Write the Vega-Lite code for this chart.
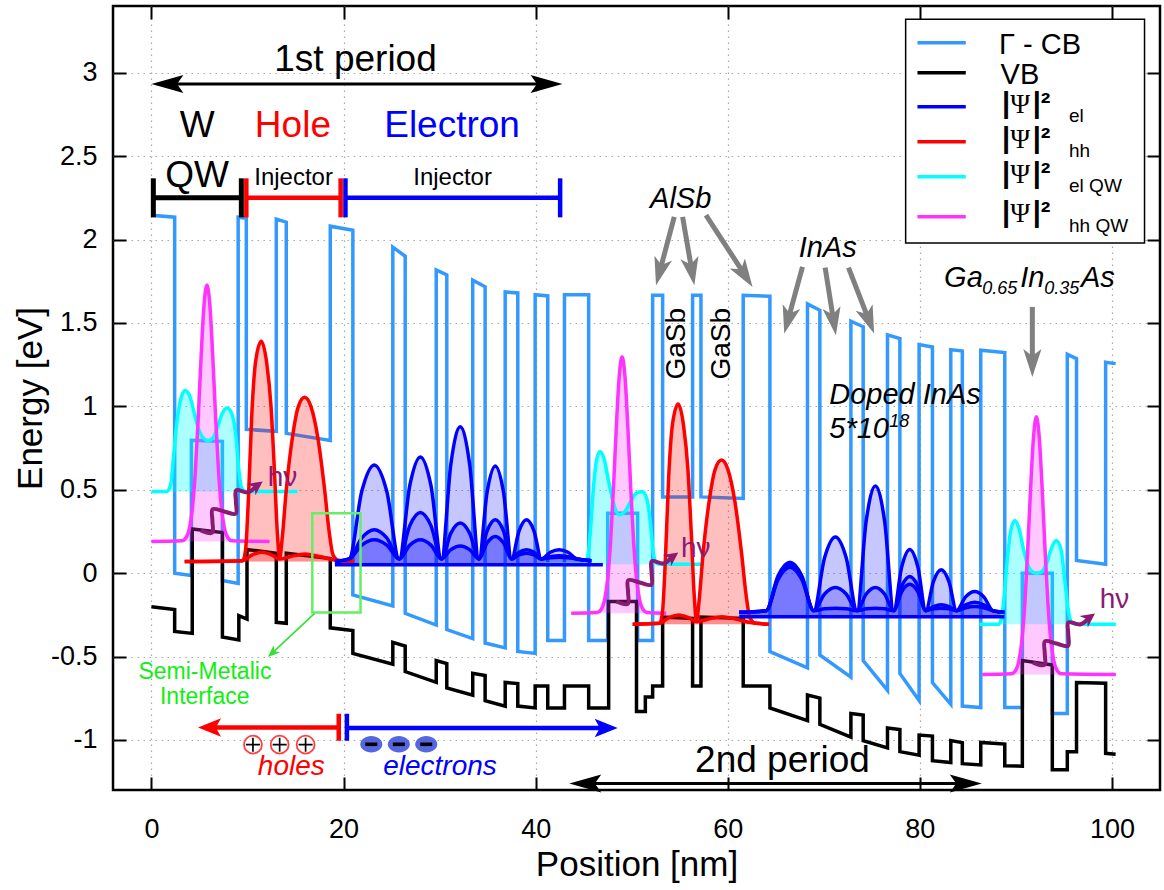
{
"$schema": "https://vega.github.io/schema/vega-lite/v6.json",
"width": 1047, "height": 784,
"autosize": {"type": "none"},
"padding": {"left": 113, "top": 6, "right": 4, "bottom": 100},
"background": "white",
"config": {
  "font": "Liberation Sans",
  "view": {"stroke": "black", "strokeWidth": 2.5},
  "axis": {"domain": false, "tickSize": -13, "tickWidth": 2, "tickColor": "black", "labelFontSize": 27, "labelColor": "black", "labelFont": "Liberation Sans", "titleFont": "Liberation Sans", "titleFontSize": 35, "titleFontWeight": "normal", "titleColor": "black", "gridColor": "#a8a8a8", "gridDash": [1.5, 4.5], "gridWidth": 1.2, "labelFlush": false, "labelOverlap": false}
},
"datasets": {
"cb": [{"x":0,"y":2.146},{"x":2.42,"y":2.134},{"x":2.42,"y":0.0},{"x":4.16,"y":-0.014},{"x":4.16,"y":0.796},{"x":7.39,"y":0.79},{"x":7.39,"y":-0.044},{"x":9.03,"y":-0.062},{"x":9.03,"y":2.134},{"x":9.88,"y":2.128},{"x":9.88,"y":0.862},{"x":13.0,"y":0.85},{"x":13.0,"y":2.122},{"x":14.04,"y":2.104},{"x":14.04,"y":0.838},{"x":18.62,"y":0.796},{"x":18.62,"y":2.08},{"x":20.97,"y":2.056},{"x":20.97,"y":-0.131},{"x":25.13,"y":-0.197},{"x":25.13,"y":1.954},{"x":26.42,"y":1.9},{"x":26.42,"y":-0.241},{"x":29.65,"y":-0.311},{"x":29.65,"y":1.818},{"x":30.75,"y":1.788},{"x":30.75,"y":-0.338},{"x":33.45,"y":-0.392},{"x":33.45,"y":1.756},{"x":34.74,"y":1.717},{"x":34.74,"y":-0.419},{"x":36.83,"y":-0.448},{"x":36.83,"y":1.686},{"x":38.14,"y":1.68},{"x":38.14,"y":-0.47},{"x":39.95,"y":-0.481},{"x":39.95,"y":1.669},{"x":41.26,"y":1.662},{"x":41.26,"y":-0.404},{"x":43.0,"y":-0.404},{"x":43.0,"y":1.669},{"x":45.52,"y":1.669},{"x":45.52,"y":-0.404},{"x":47.5,"y":-0.404},{"x":47.5,"y":0.359},{"x":50.62,"y":0.359},{"x":50.62,"y":-0.404},{"x":52.18,"y":-0.404},{"x":52.18,"y":1.666},{"x":53.22,"y":1.666},{"x":53.22,"y":0.457},{"x":56.34,"y":0.457},{"x":56.34,"y":1.666},{"x":57.21,"y":1.666},{"x":57.21,"y":0.457},{"x":61.61,"y":0.448},{"x":61.61,"y":1.666},{"x":64.39,"y":1.66},{"x":64.39,"y":-0.47},{"x":68.3,"y":-0.568},{"x":68.3,"y":1.614},{"x":69.59,"y":1.576},{"x":69.59,"y":-0.491},{"x":72.82,"y":-0.623},{"x":72.82,"y":1.51},{"x":74.1,"y":1.477},{"x":74.1,"y":-0.524},{"x":76.63,"y":-0.703},{"x":76.63,"y":1.429},{"x":77.92,"y":1.406},{"x":77.92,"y":-0.601},{"x":79.92,"y":-0.764},{"x":79.92,"y":1.37},{"x":81.31,"y":1.356},{"x":81.31,"y":-0.656},{"x":83.22,"y":-0.786},{"x":83.22,"y":1.34},{"x":84.42,"y":1.332},{"x":84.42,"y":-0.797},{"x":86.34,"y":-0.806},{"x":86.34,"y":1.336},{"x":88.84,"y":1.322},{"x":88.84,"y":-0.806},{"x":90.67,"y":-0.806},{"x":90.67,"y":0.0},{"x":93.79,"y":0.0},{"x":93.79,"y":-0.841},{"x":95.35,"y":-0.841},{"x":95.35,"y":1.312},{"x":96.31,"y":1.286},{"x":96.31,"y":0.076},{"x":99.34,"y":0.054},{"x":99.34,"y":1.264},{"x":100.38,"y":1.256}],
"vb": [{"x":0,"y":-0.202},{"x":2.42,"y":-0.218},{"x":2.42,"y":-0.35},{"x":4.25,"y":-0.361},{"x":4.25,"y":0.265},{"x":7.39,"y":0.244},{"x":7.39,"y":-0.383},{"x":9.1,"y":-0.4},{"x":9.1,"y":-0.255},{"x":9.95,"y":-0.275},{"x":9.95,"y":0.142},{"x":13.0,"y":0.119},{"x":13.0,"y":-0.295},{"x":14.04,"y":-0.301},{"x":14.04,"y":0.119},{"x":18.62,"y":0.088},{"x":18.62,"y":-0.328},{"x":20.97,"y":-0.344},{"x":20.97,"y":-0.481},{"x":25.13,"y":-0.546},{"x":25.13,"y":-0.415},{"x":26.42,"y":-0.437},{"x":26.42,"y":-0.59},{"x":29.65,"y":-0.655},{"x":29.65,"y":-0.524},{"x":30.75,"y":-0.542},{"x":30.75,"y":-0.688},{"x":33.45,"y":-0.731},{"x":33.45,"y":-0.601},{"x":34.74,"y":-0.614},{"x":34.74,"y":-0.764},{"x":36.83,"y":-0.797},{"x":36.83,"y":-0.655},{"x":38.14,"y":-0.662},{"x":38.14,"y":-0.797},{"x":39.95,"y":-0.808},{"x":39.95,"y":-0.677},{"x":41.26,"y":-0.677},{"x":41.26,"y":-0.808},{"x":43.0,"y":-0.808},{"x":43.0,"y":-0.677},{"x":45.52,"y":-0.677},{"x":45.52,"y":-0.808},{"x":47.6,"y":-0.808},{"x":47.6,"y":-0.17},{"x":50.5,"y":-0.17},{"x":50.5,"y":-0.83},{"x":51.42,"y":-0.83},{"x":51.42,"y":-0.743},{"x":52.18,"y":-0.743},{"x":52.18,"y":-0.677},{"x":53.22,"y":-0.677},{"x":53.22,"y":-0.263},{"x":56.34,"y":-0.272},{"x":56.34,"y":-0.677},{"x":57.21,"y":-0.677},{"x":57.21,"y":-0.263},{"x":61.61,"y":-0.272},{"x":61.61,"y":-0.677},{"x":64.39,"y":-0.677},{"x":64.39,"y":-0.808},{"x":68.3,"y":-0.884},{"x":68.3,"y":-0.731},{"x":69.59,"y":-0.749},{"x":69.59,"y":-0.906},{"x":72.82,"y":-0.983},{"x":72.82,"y":-0.841},{"x":74.1,"y":-0.851},{"x":74.1,"y":-1.005},{"x":76.63,"y":-1.048},{"x":76.63,"y":-0.928},{"x":77.92,"y":-0.938},{"x":77.92,"y":-1.07},{"x":79.92,"y":-1.091},{"x":79.92,"y":-0.971},{"x":81.31,"y":-0.977},{"x":81.31,"y":-1.124},{"x":83.22,"y":-1.135},{"x":83.22,"y":-1.004},{"x":84.42,"y":-1.016},{"x":84.42,"y":-1.142},{"x":86.34,"y":-1.15},{"x":86.34,"y":-1.015},{"x":88.84,"y":-1.025},{"x":88.84,"y":-1.155},{"x":90.67,"y":-1.157},{"x":90.67,"y":-0.524},{"x":93.79,"y":-0.551},{"x":93.79,"y":-1.178},{"x":95.35,"y":-1.178},{"x":95.35,"y":-1.07},{"x":96.31,"y":-1.07},{"x":96.31,"y":-0.656},{"x":99.34,"y":-0.66},{"x":99.34,"y":-1.08},{"x":100.38,"y":-1.085}],
"elqw": [
{"s":"c1","b":0.49,"x":0,"y":0.49},{"s":"c1","b":0.49,"x":1.6,"y":0.49},{"s":"c1","b":0.49,"x":2.0,"y":0.53},{"s":"c1","b":0.49,"x":2.3,"y":0.7},{"s":"c1","b":0.49,"x":2.6,"y":0.88},{"s":"c1","b":0.49,"x":3.0,"y":1.03},{"s":"c1","b":0.49,"x":3.5,"y":1.095},{"s":"c1","b":0.49,"x":4.0,"y":1.06},{"s":"c1","b":0.49,"x":4.5,"y":0.95},{"s":"c1","b":0.49,"x":5.0,"y":0.85},{"s":"c1","b":0.49,"x":5.5,"y":0.805},{"s":"c1","b":0.49,"x":5.9,"y":0.795},{"s":"c1","b":0.49,"x":6.4,"y":0.81},{"s":"c1","b":0.49,"x":6.9,"y":0.88},{"s":"c1","b":0.49,"x":7.4,"y":0.96},{"s":"c1","b":0.49,"x":7.9,"y":0.99},{"s":"c1","b":0.49,"x":8.4,"y":0.95},{"s":"c1","b":0.49,"x":8.8,"y":0.82},{"s":"c1","b":0.49,"x":9.1,"y":0.62},{"s":"c1","b":0.49,"x":9.4,"y":0.51},{"s":"c1","b":0.49,"x":9.8,"y":0.49},{"s":"c1","b":0.49,"x":15.2,"y":0.49},
{"s":"c2","b":0.054,"x":40.9,"y":0.054},{"s":"c2","b":0.054,"x":45.0,"y":0.054},{"s":"c2","b":0.054,"x":45.4,"y":0.09},{"s":"c2","b":0.054,"x":45.7,"y":0.25},{"s":"c2","b":0.054,"x":46.0,"y":0.5},{"s":"c2","b":0.054,"x":46.35,"y":0.68},{"s":"c2","b":0.054,"x":46.7,"y":0.73},{"s":"c2","b":0.054,"x":47.1,"y":0.69},{"s":"c2","b":0.054,"x":47.6,"y":0.55},{"s":"c2","b":0.054,"x":48.1,"y":0.42},{"s":"c2","b":0.054,"x":48.7,"y":0.35},{"s":"c2","b":0.054,"x":49.3,"y":0.37},{"s":"c2","b":0.054,"x":49.9,"y":0.43},{"s":"c2","b":0.054,"x":50.5,"y":0.48},{"s":"c2","b":0.054,"x":51.1,"y":0.49},{"s":"c2","b":0.054,"x":51.6,"y":0.44},{"s":"c2","b":0.054,"x":51.95,"y":0.3},{"s":"c2","b":0.054,"x":52.25,"y":0.12},{"s":"c2","b":0.054,"x":52.6,"y":0.06},{"s":"c2","b":0.054,"x":53.0,"y":0.054},{"s":"c2","b":0.054,"x":57.3,"y":0.054},
{"s":"c3","b":-0.306,"x":86.2,"y":-0.306},{"s":"c3","b":-0.306,"x":88.2,"y":-0.306},{"s":"c3","b":-0.306,"x":88.5,"y":-0.27},{"s":"c3","b":-0.306,"x":88.8,"y":-0.12},{"s":"c3","b":-0.306,"x":89.1,"y":0.08},{"s":"c3","b":-0.306,"x":89.45,"y":0.25},{"s":"c3","b":-0.306,"x":89.9,"y":0.316},{"s":"c3","b":-0.306,"x":90.35,"y":0.26},{"s":"c3","b":-0.306,"x":90.8,"y":0.14},{"s":"c3","b":-0.306,"x":91.3,"y":0.04},{"s":"c3","b":-0.306,"x":91.8,"y":0.005},{"s":"c3","b":-0.306,"x":92.25,"y":0.0},{"s":"c3","b":-0.306,"x":92.7,"y":0.01},{"s":"c3","b":-0.306,"x":93.2,"y":0.06},{"s":"c3","b":-0.306,"x":93.7,"y":0.15},{"s":"c3","b":-0.306,"x":94.2,"y":0.196},{"s":"c3","b":-0.306,"x":94.7,"y":0.14},{"s":"c3","b":-0.306,"x":95.1,"y":-0.05},{"s":"c3","b":-0.306,"x":95.45,"y":-0.22},{"s":"c3","b":-0.306,"x":95.8,"y":-0.295},{"s":"c3","b":-0.306,"x":96.2,"y":-0.306},{"s":"c3","b":-0.306,"x":100.4,"y":-0.306}],
"hhqw": [
{"s":"m1","b":0.19,"x":0,"y":0.19},{"s":"m1","b":0.19,"x":3.18,"y":0.194},{"s":"m1","b":0.19,"x":3.58,"y":0.211},{"s":"m1","b":0.19,"x":3.98,"y":0.276},{"s":"m1","b":0.19,"x":4.28,"y":0.397},{"s":"m1","b":0.19,"x":4.58,"y":0.617},{"s":"m1","b":0.19,"x":4.88,"y":0.939},{"s":"m1","b":0.19,"x":5.18,"y":1.306},{"s":"m1","b":0.19,"x":5.48,"y":1.609},{"s":"m1","b":0.19,"x":5.78,"y":1.727},{"s":"m1","b":0.19,"x":6.08,"y":1.609},{"s":"m1","b":0.19,"x":6.38,"y":1.306},{"s":"m1","b":0.19,"x":6.68,"y":0.939},{"s":"m1","b":0.19,"x":6.98,"y":0.617},{"s":"m1","b":0.19,"x":7.28,"y":0.397},{"s":"m1","b":0.19,"x":7.58,"y":0.276},{"s":"m1","b":0.19,"x":7.98,"y":0.211},{"s":"m1","b":0.19,"x":8.38,"y":0.194},{"s":"m1","b":0.19,"x":12.3,"y":0.19},
{"s":"m2","b":-0.24,"x":43.7,"y":-0.24},{"s":"m2","b":-0.24,"x":46.4,"y":-0.236},{"s":"m2","b":-0.24,"x":46.8,"y":-0.219},{"s":"m2","b":-0.24,"x":47.2,"y":-0.154},{"s":"m2","b":-0.24,"x":47.5,"y":-0.033},{"s":"m2","b":-0.24,"x":47.8,"y":0.187},{"s":"m2","b":-0.24,"x":48.1,"y":0.509},{"s":"m2","b":-0.24,"x":48.4,"y":0.876},{"s":"m2","b":-0.24,"x":48.7,"y":1.179},{"s":"m2","b":-0.24,"x":49.0,"y":1.297},{"s":"m2","b":-0.24,"x":49.3,"y":1.179},{"s":"m2","b":-0.24,"x":49.6,"y":0.876},{"s":"m2","b":-0.24,"x":49.9,"y":0.509},{"s":"m2","b":-0.24,"x":50.2,"y":0.187},{"s":"m2","b":-0.24,"x":50.5,"y":-0.033},{"s":"m2","b":-0.24,"x":50.8,"y":-0.154},{"s":"m2","b":-0.24,"x":51.2,"y":-0.219},{"s":"m2","b":-0.24,"x":51.6,"y":-0.236},{"s":"m2","b":-0.24,"x":53.6,"y":-0.24},
{"s":"m3","b":-0.607,"x":86.5,"y":-0.607},{"s":"m3","b":-0.607,"x":89.53,"y":-0.603},{"s":"m3","b":-0.607,"x":89.93,"y":-0.586},{"s":"m3","b":-0.607,"x":90.33,"y":-0.521},{"s":"m3","b":-0.607,"x":90.63,"y":-0.4},{"s":"m3","b":-0.607,"x":90.93,"y":-0.18},{"s":"m3","b":-0.607,"x":91.23,"y":0.143},{"s":"m3","b":-0.607,"x":91.53,"y":0.51},{"s":"m3","b":-0.607,"x":91.83,"y":0.813},{"s":"m3","b":-0.607,"x":92.13,"y":0.937},{"s":"m3","b":-0.607,"x":92.43,"y":0.813},{"s":"m3","b":-0.607,"x":92.73,"y":0.51},{"s":"m3","b":-0.607,"x":93.03,"y":0.143},{"s":"m3","b":-0.607,"x":93.33,"y":-0.18},{"s":"m3","b":-0.607,"x":93.63,"y":-0.4},{"s":"m3","b":-0.607,"x":93.93,"y":-0.521},{"s":"m3","b":-0.607,"x":94.33,"y":-0.586},{"s":"m3","b":-0.607,"x":94.73,"y":-0.603},{"s":"m3","b":-0.607,"x":100.4,"y":-0.607}],
"hh": [
{"s":"r1a","b":0.07,"x":3.46,"y":0.07},{"s":"r1a","b":0.07,"x":9.5,"y":0.075},{"s":"r1a","b":0.07,"x":9.8,"y":0.14},{"s":"r1a","b":0.07,"x":10.1,"y":0.45},{"s":"r1a","b":0.07,"x":10.45,"y":0.95},{"s":"r1a","b":0.07,"x":10.85,"y":1.27},{"s":"r1a","b":0.07,"x":11.44,"y":1.39},{"s":"r1a","b":0.07,"x":12.0,"y":1.26},{"s":"r1a","b":0.07,"x":12.45,"y":1.0},{"s":"r1a","b":0.07,"x":12.8,"y":0.62},{"s":"r1a","b":0.07,"x":13.1,"y":0.25},{"s":"r1a","b":0.07,"x":13.35,"y":0.09},{"s":"r1a","b":0.07,"x":13.6,"y":0.2},{"s":"r1a","b":0.07,"x":14.04,"y":0.5},{"s":"r1a","b":0.07,"x":14.67,"y":0.81},{"s":"r1a","b":0.07,"x":15.3,"y":1.0},{"s":"r1a","b":0.07,"x":15.95,"y":1.054},{"s":"r1a","b":0.07,"x":16.6,"y":1.0},{"s":"r1a","b":0.07,"x":17.33,"y":0.81},{"s":"r1a","b":0.07,"x":18.03,"y":0.5},{"s":"r1a","b":0.07,"x":18.5,"y":0.25},{"s":"r1a","b":0.07,"x":18.9,"y":0.11},{"s":"r1a","b":0.07,"x":19.5,"y":0.075},{"s":"r1a","b":0.07,"x":21.1,"y":0.07},
{"s":"r1b","b":0.07,"x":3.46,"y":0.07},{"s":"r1b","b":0.07,"x":9.5,"y":0.075},{"s":"r1b","b":0.07,"x":10.5,"y":0.11},{"s":"r1b","b":0.07,"x":11.5,"y":0.125},{"s":"r1b","b":0.07,"x":12.5,"y":0.11},{"s":"r1b","b":0.07,"x":13.35,"y":0.085},{"s":"r1b","b":0.07,"x":14.5,"y":0.1},{"s":"r1b","b":0.07,"x":16.0,"y":0.115},{"s":"r1b","b":0.07,"x":17.5,"y":0.1},{"s":"r1b","b":0.07,"x":19.0,"y":0.08},{"s":"r1b","b":0.07,"x":21.1,"y":0.07},
{"s":"r2a","b":-0.306,"x":50.1,"y":-0.306},{"s":"r2a","b":-0.306,"x":52.9,"y":-0.301},{"s":"r2a","b":-0.306,"x":53.2,"y":-0.236},{"s":"r2a","b":-0.306,"x":53.5,"y":0.074},{"s":"r2a","b":-0.306,"x":53.85,"y":0.574},{"s":"r2a","b":-0.306,"x":54.25,"y":0.894},{"s":"r2a","b":-0.306,"x":54.84,"y":1.014},{"s":"r2a","b":-0.306,"x":55.4,"y":0.884},{"s":"r2a","b":-0.306,"x":55.85,"y":0.624},{"s":"r2a","b":-0.306,"x":56.2,"y":0.244},{"s":"r2a","b":-0.306,"x":56.5,"y":-0.126},{"s":"r2a","b":-0.306,"x":56.75,"y":-0.286},{"s":"r2a","b":-0.306,"x":57.0,"y":-0.176},{"s":"r2a","b":-0.306,"x":57.44,"y":0.124},{"s":"r2a","b":-0.306,"x":58.07,"y":0.434},{"s":"r2a","b":-0.306,"x":58.7,"y":0.624},{"s":"r2a","b":-0.306,"x":59.35,"y":0.678},{"s":"r2a","b":-0.306,"x":60.0,"y":0.624},{"s":"r2a","b":-0.306,"x":60.73,"y":0.434},{"s":"r2a","b":-0.306,"x":61.43,"y":0.124},{"s":"r2a","b":-0.306,"x":61.9,"y":-0.126},{"s":"r2a","b":-0.306,"x":62.3,"y":-0.266},{"s":"r2a","b":-0.306,"x":62.9,"y":-0.301},{"s":"r2a","b":-0.306,"x":64.3,"y":-0.306},
{"s":"r2b","b":-0.306,"x":50.1,"y":-0.306},{"s":"r2b","b":-0.306,"x":52.9,"y":-0.301},{"s":"r2b","b":-0.306,"x":53.9,"y":-0.266},{"s":"r2b","b":-0.306,"x":54.9,"y":-0.251},{"s":"r2b","b":-0.306,"x":55.9,"y":-0.266},{"s":"r2b","b":-0.306,"x":56.75,"y":-0.291},{"s":"r2b","b":-0.306,"x":57.9,"y":-0.276},{"s":"r2b","b":-0.306,"x":59.4,"y":-0.261},{"s":"r2b","b":-0.306,"x":60.9,"y":-0.276},{"s":"r2b","b":-0.306,"x":62.4,"y":-0.296},{"s":"r2b","b":-0.306,"x":64.3,"y":-0.306}],
"el": [
{"s":"e1a","b":0.055,"x":19.1,"y":0.07},{"s":"e1a","b":0.055,"x":20.6,"y":0.085},{"s":"e1a","b":0.055,"x":21.9,"y":0.491},{"s":"e1a","b":0.055,"x":23.2,"y":0.649},{"s":"e1a","b":0.055,"x":24.5,"y":0.491},{"s":"e1a","b":0.055,"x":25.8,"y":0.085},{"s":"e1a","b":0.055,"x":26.9,"y":0.526},{"s":"e1a","b":0.055,"x":28.0,"y":0.697},{"s":"e1a","b":0.055,"x":29.1,"y":0.526},{"s":"e1a","b":0.055,"x":30.2,"y":0.085},{"s":"e1a","b":0.055,"x":31.175,"y":0.655},{"s":"e1a","b":0.055,"x":32.15,"y":0.877},{"s":"e1a","b":0.055,"x":33.125,"y":0.655},{"s":"e1a","b":0.055,"x":34.1,"y":0.085},{"s":"e1a","b":0.055,"x":34.95,"y":0.487},{"s":"e1a","b":0.055,"x":35.8,"y":0.643},{"s":"e1a","b":0.055,"x":36.65,"y":0.487},{"s":"e1a","b":0.055,"x":37.5,"y":0.085},{"s":"e1a","b":0.055,"x":38.275,"y":0.254},{"s":"e1a","b":0.055,"x":39.05,"y":0.32},{"s":"e1a","b":0.055,"x":39.825,"y":0.254},{"s":"e1a","b":0.055,"x":40.6,"y":0.085},{"s":"e1a","b":0.055,"x":41.525,"y":0.125},{"s":"e1a","b":0.055,"x":42.45,"y":0.14},{"s":"e1a","b":0.055,"x":43.375,"y":0.125},{"s":"e1a","b":0.055,"x":44.3,"y":0.085},{"s":"e1a","b":0.055,"x":45.8,"y":0.075},
{"s":"e1b","b":0.055,"x":19.1,"y":0.07},{"s":"e1b","b":0.055,"x":20.6,"y":0.085},{"s":"e1b","b":0.055,"x":21.9,"y":0.211},{"s":"e1b","b":0.055,"x":23.2,"y":0.26},{"s":"e1b","b":0.055,"x":24.5,"y":0.211},{"s":"e1b","b":0.055,"x":25.8,"y":0.085},{"s":"e1b","b":0.055,"x":26.9,"y":0.285},{"s":"e1b","b":0.055,"x":28.0,"y":0.363},{"s":"e1b","b":0.055,"x":29.1,"y":0.285},{"s":"e1b","b":0.055,"x":30.2,"y":0.085},{"s":"e1b","b":0.055,"x":31.175,"y":0.24},{"s":"e1b","b":0.055,"x":32.15,"y":0.3},{"s":"e1b","b":0.055,"x":33.125,"y":0.24},{"s":"e1b","b":0.055,"x":34.1,"y":0.085},{"s":"e1b","b":0.055,"x":34.95,"y":0.254},{"s":"e1b","b":0.055,"x":35.8,"y":0.32},{"s":"e1b","b":0.055,"x":36.65,"y":0.254},{"s":"e1b","b":0.055,"x":37.5,"y":0.085},{"s":"e1b","b":0.055,"x":38.275,"y":0.125},{"s":"e1b","b":0.055,"x":39.05,"y":0.14},{"s":"e1b","b":0.055,"x":39.825,"y":0.125},{"s":"e1b","b":0.055,"x":40.6,"y":0.085},{"s":"e1b","b":0.055,"x":41.525,"y":0.099},{"s":"e1b","b":0.055,"x":42.45,"y":0.105},{"s":"e1b","b":0.055,"x":43.375,"y":0.099},{"s":"e1b","b":0.055,"x":44.3,"y":0.085},{"s":"e1b","b":0.055,"x":45.8,"y":0.075},
{"s":"e1c","b":0.055,"x":19.1,"y":0.07},{"s":"e1c","b":0.055,"x":20.6,"y":0.085},{"s":"e1c","b":0.055,"x":21.9,"y":0.168},{"s":"e1c","b":0.055,"x":23.2,"y":0.2},{"s":"e1c","b":0.055,"x":24.5,"y":0.168},{"s":"e1c","b":0.055,"x":25.8,"y":0.085},{"s":"e1c","b":0.055,"x":26.9,"y":0.168},{"s":"e1c","b":0.055,"x":28.0,"y":0.2},{"s":"e1c","b":0.055,"x":29.1,"y":0.168},{"s":"e1c","b":0.055,"x":30.2,"y":0.085},{"s":"e1c","b":0.055,"x":31.175,"y":0.141},{"s":"e1c","b":0.055,"x":32.15,"y":0.163},{"s":"e1c","b":0.055,"x":33.125,"y":0.141},{"s":"e1c","b":0.055,"x":34.1,"y":0.085},{"s":"e1c","b":0.055,"x":34.95,"y":0.182},{"s":"e1c","b":0.055,"x":35.8,"y":0.22},{"s":"e1c","b":0.055,"x":36.65,"y":0.182},{"s":"e1c","b":0.055,"x":37.5,"y":0.085},{"s":"e1c","b":0.055,"x":38.275,"y":0.11},{"s":"e1c","b":0.055,"x":39.05,"y":0.12},{"s":"e1c","b":0.055,"x":39.825,"y":0.11},{"s":"e1c","b":0.055,"x":40.6,"y":0.085},{"s":"e1c","b":0.055,"x":41.525,"y":0.092},{"s":"e1c","b":0.055,"x":42.45,"y":0.095},{"s":"e1c","b":0.055,"x":43.375,"y":0.092},{"s":"e1c","b":0.055,"x":44.3,"y":0.085},{"s":"e1c","b":0.055,"x":45.8,"y":0.075},
{"s":"e1d","b":0.05,"x":19.1,"y":0.05},{"s":"e1d","b":0.05,"x":47.0,"y":0.05},
{"s":"e2a","b":-0.255,"x":61.2,"y":-0.235},{"s":"e2a","b":-0.255,"x":64.0,"y":-0.225},{"s":"e2a","b":-0.255,"x":65.24,"y":-0.016},{"s":"e2a","b":-0.255,"x":66.475,"y":0.065},{"s":"e2a","b":-0.255,"x":67.71,"y":-0.016},{"s":"e2a","b":-0.255,"x":68.95,"y":-0.225},{"s":"e2a","b":-0.255,"x":70.08,"y":0.093},{"s":"e2a","b":-0.255,"x":71.205,"y":0.217},{"s":"e2a","b":-0.255,"x":72.33,"y":0.093},{"s":"e2a","b":-0.255,"x":73.46,"y":-0.225},{"s":"e2a","b":-0.255,"x":74.415,"y":0.314},{"s":"e2a","b":-0.255,"x":75.37,"y":0.523},{"s":"e2a","b":-0.255,"x":76.325,"y":0.314},{"s":"e2a","b":-0.255,"x":77.28,"y":-0.225},{"s":"e2a","b":-0.255,"x":78.115,"y":0.039},{"s":"e2a","b":-0.255,"x":78.95,"y":0.142},{"s":"e2a","b":-0.255,"x":79.785,"y":0.039},{"s":"e2a","b":-0.255,"x":80.62,"y":-0.225},{"s":"e2a","b":-0.255,"x":81.42,"y":-0.049},{"s":"e2a","b":-0.255,"x":82.22,"y":0.02},{"s":"e2a","b":-0.255,"x":83.02,"y":-0.049},{"s":"e2a","b":-0.255,"x":83.82,"y":-0.225},{"s":"e2a","b":-0.255,"x":84.765,"y":-0.142},{"s":"e2a","b":-0.255,"x":85.71,"y":-0.11},{"s":"e2a","b":-0.255,"x":86.655,"y":-0.142},{"s":"e2a","b":-0.255,"x":87.6,"y":-0.225},{"s":"e2a","b":-0.255,"x":88.8,"y":-0.235},
{"s":"e2b","b":-0.255,"x":61.2,"y":-0.235},{"s":"e2b","b":-0.255,"x":64.0,"y":-0.225},{"s":"e2b","b":-0.255,"x":65.24,"y":-0.027},{"s":"e2b","b":-0.255,"x":66.475,"y":0.05},{"s":"e2b","b":-0.255,"x":67.71,"y":-0.027},{"s":"e2b","b":-0.255,"x":68.95,"y":-0.225},{"s":"e2b","b":-0.255,"x":70.08,"y":-0.125},{"s":"e2b","b":-0.255,"x":71.205,"y":-0.086},{"s":"e2b","b":-0.255,"x":72.33,"y":-0.125},{"s":"e2b","b":-0.255,"x":73.46,"y":-0.225},{"s":"e2b","b":-0.255,"x":74.415,"y":-0.125},{"s":"e2b","b":-0.255,"x":75.37,"y":-0.086},{"s":"e2b","b":-0.255,"x":76.325,"y":-0.125},{"s":"e2b","b":-0.255,"x":77.28,"y":-0.225},{"s":"e2b","b":-0.255,"x":78.115,"y":-0.077},{"s":"e2b","b":-0.255,"x":78.95,"y":-0.02},{"s":"e2b","b":-0.255,"x":79.785,"y":-0.077},{"s":"e2b","b":-0.255,"x":80.62,"y":-0.225},{"s":"e2b","b":-0.255,"x":81.42,"y":-0.2},{"s":"e2b","b":-0.255,"x":82.22,"y":-0.19},{"s":"e2b","b":-0.255,"x":83.02,"y":-0.2},{"s":"e2b","b":-0.255,"x":83.82,"y":-0.225},{"s":"e2b","b":-0.255,"x":84.765,"y":-0.19},{"s":"e2b","b":-0.255,"x":85.71,"y":-0.175},{"s":"e2b","b":-0.255,"x":86.655,"y":-0.19},{"s":"e2b","b":-0.255,"x":87.6,"y":-0.225},{"s":"e2b","b":-0.255,"x":88.8,"y":-0.235},
{"s":"e2c","b":-0.255,"x":61.2,"y":-0.235},{"s":"e2c","b":-0.255,"x":64.0,"y":-0.225},{"s":"e2c","b":-0.255,"x":65.24,"y":-0.038},{"s":"e2c","b":-0.255,"x":66.475,"y":0.035},{"s":"e2c","b":-0.255,"x":67.71,"y":-0.038},{"s":"e2c","b":-0.255,"x":68.95,"y":-0.225},{"s":"e2c","b":-0.255,"x":70.08,"y":-0.214},{"s":"e2c","b":-0.255,"x":71.205,"y":-0.21},{"s":"e2c","b":-0.255,"x":72.33,"y":-0.214},{"s":"e2c","b":-0.255,"x":73.46,"y":-0.225},{"s":"e2c","b":-0.255,"x":74.415,"y":-0.214},{"s":"e2c","b":-0.255,"x":75.37,"y":-0.21},{"s":"e2c","b":-0.255,"x":76.325,"y":-0.214},{"s":"e2c","b":-0.255,"x":77.28,"y":-0.225},{"s":"e2c","b":-0.255,"x":78.115,"y":-0.11},{"s":"e2c","b":-0.255,"x":78.95,"y":-0.066},{"s":"e2c","b":-0.255,"x":79.785,"y":-0.11},{"s":"e2c","b":-0.255,"x":80.62,"y":-0.225},{"s":"e2c","b":-0.255,"x":81.42,"y":-0.214},{"s":"e2c","b":-0.255,"x":82.22,"y":-0.21},{"s":"e2c","b":-0.255,"x":83.02,"y":-0.214},{"s":"e2c","b":-0.255,"x":83.82,"y":-0.225},{"s":"e2c","b":-0.255,"x":84.765,"y":-0.207},{"s":"e2c","b":-0.255,"x":85.71,"y":-0.2},{"s":"e2c","b":-0.255,"x":86.655,"y":-0.207},{"s":"e2c","b":-0.255,"x":87.6,"y":-0.225},{"s":"e2c","b":-0.255,"x":88.8,"y":-0.235},
{"s":"e2d","b":-0.262,"x":61.2,"y":-0.262},{"s":"e2d","b":-0.262,"x":88.8,"y":-0.262}],
"waves": [
{"s":"w1","x":5.13,"y":0.256},{"s":"w1","x":6.32,"y":0.242},{"s":"w1","x":6.35,"y":0.313},{"s":"w1","x":6.37,"y":0.383},{"s":"w1","x":7.57,"y":0.37},{"s":"w1","x":8.77,"y":0.356},{"s":"w1","x":8.8,"y":0.427},{"s":"w1","x":8.82,"y":0.497},{"s":"w1","x":10.02,"y":0.484},{"s":"w1","x":10.85,"y":0.517},
{"s":"w2","x":48.4,"y":-0.17},{"s":"w2","x":49.59,"y":-0.184},{"s":"w2","x":49.62,"y":-0.113},{"s":"w2","x":49.64,"y":-0.043},{"s":"w2","x":50.84,"y":-0.056},{"s":"w2","x":52.04,"y":-0.07},{"s":"w2","x":52.07,"y":0.001},{"s":"w2","x":52.09,"y":0.071},{"s":"w2","x":53.29,"y":0.058},{"s":"w2","x":54.12,"y":0.091},
{"s":"w3","x":91.78,"y":-0.536},{"s":"w3","x":92.97,"y":-0.55},{"s":"w3","x":93.0,"y":-0.479},{"s":"w3","x":93.02,"y":-0.409},{"s":"w3","x":94.22,"y":-0.422},{"s":"w3","x":95.42,"y":-0.436},{"s":"w3","x":95.45,"y":-0.365},{"s":"w3","x":95.47,"y":-0.295},{"s":"w3","x":96.67,"y":-0.308},{"s":"w3","x":97.5,"y":-0.275}]
},
"encoding": {
  "x": {"field": "x", "type": "quantitative", "scale": {"domain": [-4, 105], "nice": false, "zero": false}, "axis": null},
  "y": {"field": "y", "type": "quantitative", "scale": {"domain": [-1.3, 3.4], "nice": false, "zero": false}, "axis": null}
},
"layer": [
{"data": {"name": "cb"}, "mark": {"type": "line", "color": "#3399ff", "strokeWidth": 3.5},
 "encoding": {
  "x": {"field": "x", "type": "quantitative", "scale": {"domain": [-4, 105], "nice": false, "zero": false},
        "axis": {"orient": "bottom", "values": [0, 20, 40, 60, 80, 100], "title": "Position [nm]", "grid": true, "labelPadding": 60, "labelBaseline": "alphabetic", "titleY": 85, "titleBaseline": "alphabetic"}},
  "y": {"field": "y", "type": "quantitative", "scale": {"domain": [-1.3, 3.4], "nice": false, "zero": false},
        "axis": {"orient": "left", "values": [-1, -0.5, 0, 0.5, 1, 1.5, 2, 2.5, 3], "title": "Energy [eV]", "grid": true, "labelPadding": 29, "labelExpr": "datum.value < 0 ? '-' + format(-datum.value, '~g') : format(datum.value, '~g')", "titleX": -83, "titleY": 392, "titleAngle": 270, "titleAlign": "center", "titleBaseline": "middle"}},
  "order": {"value": null}}},
{"data": {"name": "vb"}, "mark": {"type": "line", "color": "black", "strokeWidth": 3.5},
 "encoding": {
  "x": {"field": "x", "type": "quantitative", "scale": {"domain": [-4, 105], "nice": false, "zero": false},
        "axis": {"orient": "top", "values": [0, 20, 40, 60, 80, 100], "labels": false, "title": null, "grid": false}},
  "y": {"field": "y", "type": "quantitative", "scale": {"domain": [-1.3, 3.4], "nice": false, "zero": false},
        "axis": {"orient": "right", "values": [-1, -0.5, 0, 0.5, 1, 1.5, 2, 2.5, 3], "labels": false, "title": null, "grid": false}},
  "order": {"value": null}}},
{"data": {"name": "elqw"}, "mark": {"type": "area", "interpolate": "monotone", "color": "#00ffff", "opacity": 0.33}, "encoding": {"y2": {"field": "b"}, "detail": {"field": "s"}}},
{"data": {"name": "hhqw"}, "mark": {"type": "area", "interpolate": "monotone", "color": "#ff33ff", "opacity": 0.27}, "encoding": {"y2": {"field": "b"}, "detail": {"field": "s"}}},
{"data": {"name": "hh"}, "mark": {"type": "area", "interpolate": "monotone", "color": "#ff0000", "opacity": 0.25}, "encoding": {"y2": {"field": "b"}, "detail": {"field": "s"}}},
{"data": {"name": "el"}, "mark": {"type": "area", "interpolate": "monotone", "color": "#0000ff", "opacity": 0.22}, "encoding": {"y2": {"field": "b"}, "detail": {"field": "s"}}},
{"data": {"name": "elqw"}, "mark": {"type": "line", "interpolate": "monotone", "color": "#00ffff", "strokeWidth": 3.5}, "encoding": {"detail": {"field": "s"}}},
{"data": {"name": "hhqw"}, "mark": {"type": "line", "interpolate": "monotone", "color": "#ff33ff", "strokeWidth": 3.5}, "encoding": {"detail": {"field": "s"}}},
{"data": {"name": "hh"}, "mark": {"type": "line", "interpolate": "monotone", "color": "#ff0000", "strokeWidth": 3.5}, "encoding": {"detail": {"field": "s"}}},
{"data": {"name": "el"}, "mark": {"type": "line", "interpolate": "monotone", "color": "#0000ff", "strokeWidth": 3.5}, "encoding": {"detail": {"field": "s"}}},
{"data": {"name": "waves"}, "mark": {"type": "line", "interpolate": "catmull-rom", "color": "#8b1a73", "strokeWidth": 4}, "encoding": {"detail": {"field": "s"}, "order": {"value": null}}},
{"data": {"values": [{"x": 11.58, "y": 0.55, "a": 324}, {"x": 54.85, "y": 0.124, "a": 324}, {"x": 98.23, "y": -0.242, "a": 324}]},
 "mark": {"type": "point", "shape": "M0,0L-2,-1L-1.4,0L-2,1Z", "size": 196, "filled": true, "color": "#8b1a73", "opacity": 1, "strokeWidth": 0},
 "encoding": {"angle": {"field": "a", "type": "quantitative", "scale": {"domain": [0, 360], "range": [0, 360]}}}},
{"data": {"values": [{"x": 1.0, "x2": 41.8, "y": 2.932, "y2": 2.932}, {"x": 44.5, "x2": 85.4, "y": -1.261, "y2": -1.261}]},
 "mark": {"type": "rule", "color": "black", "strokeWidth": 3}, "encoding": {"x2": {"field": "x2"}, "y2": {"field": "y2"}}},
{"data": {"values": [{"x": 0, "y": 2.932, "a": 180}, {"x": 42.8, "y": 2.932, "a": 0}, {"x": 43.5, "y": -1.261, "a": 180}, {"x": 86.45, "y": -1.261, "a": 0}]},
 "mark": {"type": "point", "shape": "M0,0L-2,-0.56L-1.6,0L-2,0.56Z", "size": 1024, "filled": true, "color": "black", "opacity": 1, "strokeWidth": 0},
 "encoding": {"angle": {"field": "a", "type": "quantitative", "scale": {"domain": [0, 360], "range": [0, 360]}}}},
{"data": {"values": [{"x": 0.2, "x2": 9.36, "y": 2.25, "y2": 2.25}, {"x": 0.2, "x2": 0.2, "y": 2.133, "y2": 2.367}, {"x": 9.36, "x2": 9.36, "y": 2.133, "y2": 2.367}]},
 "mark": {"type": "rule", "color": "black", "strokeWidth": 5}, "encoding": {"x2": {"field": "x2"}, "y2": {"field": "y2"}}},
{"data": {"values": [{"x": 9.88, "x2": 19.7, "y": 2.25, "y2": 2.25}, {"x": 9.88, "x2": 9.88, "y": 2.133, "y2": 2.367}, {"x": 19.7, "x2": 19.7, "y": 2.133, "y2": 2.367}, {"x": 5.85, "x2": 19.5, "y": -0.925, "y2": -0.925}, {"x": 19.5, "x2": 19.5, "y": -0.843, "y2": -1.005}]},
 "mark": {"type": "rule", "color": "#ff0000", "strokeWidth": 4.5}, "encoding": {"x2": {"field": "x2"}, "y2": {"field": "y2"}}},
{"data": {"values": [{"x": 20.2, "x2": 42.55, "y": 2.25, "y2": 2.25}, {"x": 20.2, "x2": 20.2, "y": 2.133, "y2": 2.367}, {"x": 42.55, "x2": 42.55, "y": 2.133, "y2": 2.367}, {"x": 20.35, "x2": 47.5, "y": -0.928, "y2": -0.928}, {"x": 20.35, "x2": 20.35, "y": -0.843, "y2": -1.005}]},
 "mark": {"type": "rule", "color": "#0000ff", "strokeWidth": 4.5}, "encoding": {"x2": {"field": "x2"}, "y2": {"field": "y2"}}},
{"data": {"values": [{"x": 4.85, "y": -0.925, "a": 180}]},
 "mark": {"type": "point", "shape": "M0,0L-2,-0.8L-1.55,0L-2,0.8Z", "size": 529, "filled": true, "color": "#ff0000", "opacity": 1, "strokeWidth": 0},
 "encoding": {"angle": {"field": "a", "type": "quantitative", "scale": {"domain": [0, 360], "range": [0, 360]}}}},
{"data": {"values": [{"x": 48.54, "y": -0.928, "a": 0}]},
 "mark": {"type": "point", "shape": "M0,0L-2,-0.8L-1.55,0L-2,0.8Z", "size": 529, "filled": true, "color": "#0000ff", "opacity": 1, "strokeWidth": 0},
 "encoding": {"angle": {"field": "a", "type": "quantitative", "scale": {"domain": [0, 360], "range": [0, 360]}}}},
{"data": {"values": [{"x": 54.43, "y": 2.136, "x2": 52.86, "y2": 1.795}, {"x": 55.3, "y": 2.136, "x2": 56.31, "y2": 1.797}, {"x": 57.73, "y": 2.146, "x2": 61.91, "y2": 1.776}, {"x": 67.78, "y": 1.836, "x2": 66.21, "y2": 1.505}, {"x": 70.14, "y": 1.832, "x2": 71.06, "y2": 1.497}, {"x": 72.57, "y": 1.832, "x2": 74.78, "y2": 1.503}, {"x": 91.71, "y": 1.596, "x2": 91.71, "y2": 1.248}]},
 "mark": {"type": "rule", "color": "#808080", "strokeWidth": 5}, "encoding": {"x2": {"field": "x2"}, "y2": {"field": "y2"}}},
{"data": {"values": [{"x": 52.53, "y": 1.726, "a": 105}, {"x": 56.52, "y": 1.726, "a": 80}, {"x": 62.58, "y": 1.716, "a": 57}, {"x": 65.88, "y": 1.436, "a": 105}, {"x": 71.26, "y": 1.426, "a": 81}, {"x": 75.24, "y": 1.436, "a": 69}, {"x": 91.71, "y": 1.176, "a": 90}]},
 "mark": {"type": "point", "shape": "M0,0L-2,-0.65L-1.5,0L-2,0.65Z", "size": 784, "filled": true, "color": "#808080", "opacity": 1, "strokeWidth": 0},
 "encoding": {"angle": {"field": "a", "type": "quantitative", "scale": {"domain": [0, 360], "range": [0, 360]}}}},
{"data": {"values": [{"x": 16.75, "x2": 21.77, "y": 0.359, "y2": -0.236}]},
 "mark": {"type": "rect", "fill": null, "filled": false, "stroke": "#66ee66", "strokeWidth": 2.5}, "encoding": {"x2": {"field": "x2"}, "y2": {"field": "y2"}}},
{"data": {"values": [{"x": 16.99, "y": -0.241, "x2": 12.73, "y2": -0.47}]},
 "mark": {"type": "rule", "color": "#33e033", "strokeWidth": 1.6}, "encoding": {"x2": {"field": "x2"}, "y2": {"field": "y2"}}},
{"data": {"values": [{"x": 12.13, "y": -0.503, "a": 137}]},
 "mark": {"type": "point", "shape": "M0,0L-2,-0.8L-1.5,0L-2,0.8Z", "size": 144, "filled": true, "color": "#33e033", "opacity": 1, "strokeWidth": 0},
 "encoding": {"angle": {"field": "a", "type": "quantitative", "scale": {"domain": [0, 360], "range": [0, 360]}}}},
{"data": {"values": [{"x": 10.57, "y": -1.028}, {"x": 13.35, "y": -1.028}, {"x": 16.05, "y": -1.028}]},
 "mark": {"type": "point", "shape": "circle", "size": 320, "filled": false, "fill": "white", "stroke": "#ff4040", "strokeWidth": 1.8, "opacity": 1}, "encoding": {}},
{"data": {"values": [{"x": 10.57, "y": -1.028}, {"x": 13.35, "y": -1.028}, {"x": 16.05, "y": -1.028}]},
 "mark": {"type": "point", "shape": "M-1,-0.12L1,-0.12L1,0.12L-1,0.12ZM-0.12,-1L0.12,-1L0.12,1L-0.12,1Z", "size": 196, "filled": true, "color": "black", "opacity": 1, "strokeWidth": 0}, "encoding": {}},
{"data": {"values": [{"x": 22.89, "y": -1.026}, {"x": 25.76, "y": -1.026}, {"x": 28.61, "y": -1.026}]},
 "mark": {"type": "point", "shape": "M-1,0A1,0.75,0,1,0,1,0A1,0.75,0,1,0,-1,0Z", "size": 484, "filled": true, "color": "#4455dd", "opacity": 0.9, "strokeWidth": 0}, "encoding": {}},
{"data": {"values": [{"x": 22.89, "y": -1.026}, {"x": 25.76, "y": -1.026}, {"x": 28.61, "y": -1.026}]},
 "mark": {"type": "point", "shape": "M-1,-0.3L1,-0.3L1,0.3L-1,0.3Z", "size": 144, "filled": true, "color": "black", "opacity": 1, "strokeWidth": 0}, "encoding": {}},
{"data": {"values": [{"x": 21.25, "y": 3.01, "txt": "1st period"}, {"x": 65.7, "y": -1.195, "txt": "2nd period"}, {"x": 4.76, "y": 2.616, "txt": "W"}, {"x": 4.76, "y": 2.316, "txt": "QW"}]},
 "mark": {"type": "text", "fontSize": 37, "color": "black", "align": "center", "baseline": "alphabetic"}, "encoding": {"text": {"field": "txt"}}},
{"data": {"values": [{"x": 14.73, "y": 2.616, "txt": "Hole"}]},
 "mark": {"type": "text", "fontSize": 37, "color": "#ff0000", "align": "center", "baseline": "alphabetic"}, "encoding": {"text": {"field": "txt"}}},
{"data": {"values": [{"x": 31.3, "y": 2.616, "txt": "Electron"}]},
 "mark": {"type": "text", "fontSize": 37, "color": "#0000ff", "align": "center", "baseline": "alphabetic"}, "encoding": {"text": {"field": "txt"}}},
{"data": {"values": [{"x": 14.8, "y": 2.325, "txt": "Injector"}, {"x": 31.35, "y": 2.325, "txt": "Injector"}]},
 "mark": {"type": "text", "fontSize": 24, "color": "black", "align": "center", "baseline": "alphabetic"}, "encoding": {"text": {"field": "txt"}}},
{"data": {"values": [{"x": 55.1, "y": 2.19, "txt": "AlSb"}, {"x": 70.4, "y": 1.896, "txt": "InAs"}]},
 "mark": {"type": "text", "fontSize": 29, "fontStyle": "italic", "color": "black", "align": "center", "baseline": "alphabetic"}, "encoding": {"text": {"field": "txt"}}},
{"data": {"values": [{"x": 70.57, "y": 1.014, "txt": "Doped InAs"}, {"x": 70.57, "y": 0.808, "txt": "5*10"}, {"x": 82.52, "y": 1.716, "txt": "Ga"}, {"x": 90.45, "y": 1.716, "txt": "In"}, {"x": 96.77, "y": 1.716, "txt": "As"}]},
 "mark": {"type": "text", "fontSize": 29, "fontStyle": "italic", "color": "black", "align": "left", "baseline": "alphabetic"}, "encoding": {"text": {"field": "txt"}}},
{"data": {"values": [{"x": 76.82, "y": 0.874, "txt": "18"}, {"x": 86.5, "y": 1.676, "txt": "0.65"}, {"x": 92.95, "y": 1.676, "txt": "0.35"}]},
 "mark": {"type": "text", "fontSize": 18, "fontStyle": "italic", "color": "black", "align": "left", "baseline": "alphabetic"}, "encoding": {"text": {"field": "txt"}}},
{"data": {"values": [{"x": 54.7, "y": 1.375, "txt": "GaSb"}, {"x": 59.4, "y": 1.375, "txt": "GaSb"}]},
 "mark": {"type": "text", "fontSize": 28, "color": "black", "align": "center", "baseline": "middle", "angle": 270}, "encoding": {"text": {"field": "txt"}}},
{"data": {"values": [{"x": 5.57, "y": -0.632, "txt": "Semi-Metalic"}, {"x": 5.55, "y": -0.785, "txt": "Interface"}]},
 "mark": {"type": "text", "fontSize": 23, "color": "#11ee11", "align": "center", "baseline": "alphabetic"}, "encoding": {"text": {"field": "txt"}}},
{"data": {"values": [{"x": 14.56, "y": -1.209, "txt": "holes"}]},
 "mark": {"type": "text", "fontSize": 28, "fontStyle": "italic", "color": "#ff0000", "align": "center", "baseline": "alphabetic"}, "encoding": {"text": {"field": "txt"}}},
{"data": {"values": [{"x": 30.04, "y": -1.211, "txt": "electrons"}]},
 "mark": {"type": "text", "fontSize": 28, "fontStyle": "italic", "color": "#0000ff", "align": "center", "baseline": "alphabetic"}, "encoding": {"text": {"field": "txt"}}},
{"data": {"values": [{"x": 12.1, "y": 0.523, "txt": "hν"}, {"x": 55.13, "y": 0.094, "txt": "hν"}, {"x": 98.72, "y": -0.206, "txt": "hν"}]},
 "mark": {"type": "text", "fontSize": 28, "color": "#8b1a73", "align": "left", "baseline": "alphabetic"}, "encoding": {"text": {"field": "txt"}}},
{"data": {"values": [{"x": 78.52, "x2": 103.39, "y": 3.32, "y2": 1.979}]},
 "mark": {"type": "rect", "fill": "white", "stroke": "black", "strokeWidth": 1.5}, "encoding": {"x2": {"field": "x2"}, "y2": {"field": "y2"}}},
{"data": {"values": [{"t": "Γ - CB", "x": 79.75, "x2": 84.78, "y": 3.18}, {"t": "VB", "x": 79.75, "x2": 84.78, "y": 3.0}, {"t": "el", "x": 79.75, "x2": 84.78, "y": 2.796}, {"t": "hh", "x": 79.75, "x2": 84.78, "y": 2.586}, {"t": "el QW", "x": 79.75, "x2": 84.78, "y": 2.376}, {"t": "hh QW", "x": 79.75, "x2": 84.78, "y": 2.136}]},
 "mark": {"type": "rule", "strokeWidth": 3.5},
 "encoding": {"x2": {"field": "x2"}, "color": {"field": "t", "type": "nominal", "scale": {"domain": ["Γ - CB", "VB", "el", "hh", "el QW", "hh QW"], "range": ["#3399ff", "#000000", "#0000ff", "#ff0000", "#00ffff", "#ff33ff"]}, "legend": null}}},
{"data": {"values": [{"x": 88.24, "y": 3.112, "txt": "Γ - CB"}, {"x": 88.4, "y": 2.93, "txt": "VB"}]},
 "mark": {"type": "text", "fontSize": 29, "color": "black", "align": "left", "baseline": "alphabetic"}, "encoding": {"text": {"field": "txt"}}},
{"data": {"values": [{"x": 88.55, "y": 2.756, "txt": "|"}, {"x": 91.75, "y": 2.756, "txt": "|²"}, {"x": 88.55, "y": 2.546, "txt": "|"}, {"x": 91.75, "y": 2.546, "txt": "|²"}, {"x": 88.55, "y": 2.34, "txt": "|"}, {"x": 91.75, "y": 2.34, "txt": "|²"}, {"x": 88.55, "y": 2.106, "txt": "|"}, {"x": 91.75, "y": 2.106, "txt": "|²"}]},
 "mark": {"type": "text", "fontSize": 29, "fontWeight": "bold", "color": "black", "align": "left", "baseline": "alphabetic"}, "encoding": {"text": {"field": "txt"}}},
{"data": {"values": [{"x": 89.4, "y": 2.756, "txt": "Ψ"}, {"x": 89.4, "y": 2.546, "txt": "Ψ"}, {"x": 89.4, "y": 2.34, "txt": "Ψ"}, {"x": 89.4, "y": 2.106, "txt": "Ψ"}]},
 "mark": {"type": "text", "fontSize": 27, "font": "Liberation Serif", "color": "black", "align": "left", "baseline": "alphabetic"}, "encoding": {"text": {"field": "txt"}}},
{"data": {"values": [{"x": 95.53, "y": 2.706, "txt": "el"}, {"x": 95.53, "y": 2.496, "txt": "hh"}, {"x": 95.53, "y": 2.286, "txt": "el QW"}, {"x": 95.53, "y": 2.046, "txt": "hh QW"}]},
 "mark": {"type": "text", "fontSize": 19, "color": "black", "align": "left", "baseline": "alphabetic"}, "encoding": {"text": {"field": "txt"}}}
]
}
